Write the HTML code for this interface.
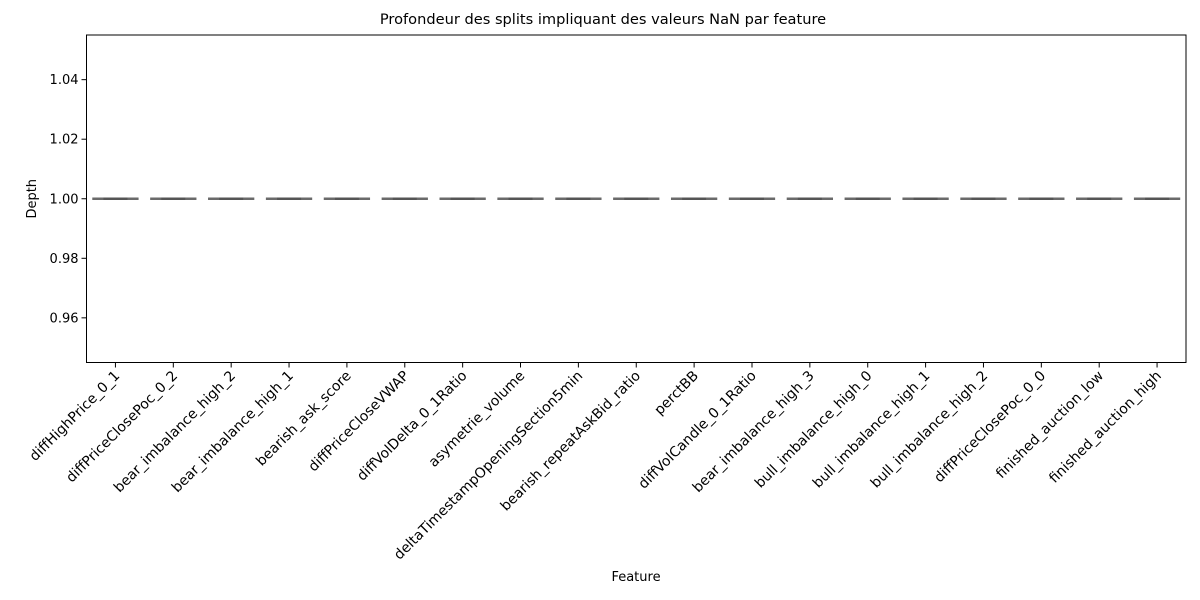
<!DOCTYPE html>
<html><head><meta charset="utf-8"><style>body{margin:0;background:#fff}svg{display:block;font-family:"DejaVu Sans","Liberation Sans",sans-serif}</style></head>
<body>
<svg id="c" width="1200" height="600" xmlns="http://www.w3.org/2000/svg"></svg>
<script>
const categories=["diffHighPrice_0_1","diffPriceClosePoc_0_2","bear_imbalance_high_2","bear_imbalance_high_1","bearish_ask_score","diffPriceCloseVWAP","diffVolDelta_0_1Ratio","asymetrie_volume","deltaTimestampOpeningSection5min","bearish_repeatAskBid_ratio","perctBB","diffVolCandle_0_1Ratio","bear_imbalance_high_3","bull_imbalance_high_0","bull_imbalance_high_1","bull_imbalance_high_2","diffPriceClosePoc_0_0","finished_auction_low","finished_auction_high"];
const medians=[1,1,1,1,1,1,1,1,1,1,1,1,1,1,1,1,1,1,1];
const yTicks=[0.96,0.98,1.00,1.02,1.04];
const yTickLabels=["0.96","0.98","1.00","1.02","1.04"];
const yMin=0.945,yMax=1.055;
const L=86.5,R=1186,T=35,B=362.5;
const svg=document.getElementById('c');const NS="http://www.w3.org/2000/svg";
function mk(t,a,p){const e=document.createElementNS(NS,t);for(const k in a)e.setAttribute(k,a[k]);(p||svg).appendChild(e);return e;}
const step=(R-L)/categories.length;
const x=i=>L+step*(i+0.5);
const y=v=>B-(v-yMin)/(yMax-yMin)*(B-T);
const t=mk('text',{x:603,y:24,'font-size':'14.6','text-anchor':'middle'});t.textContent="Profondeur des splits impliquant des valeurs NaN par feature";


categories.forEach((c,i)=>{
 const g=mk('g',{});
 
 
 const w=step*0.8,yy=y(medians[i]);
 mk('line',{x1:x(i)-w/2,x2:x(i)+w/2,y1:yy,y2:yy,stroke:'#6a6a6a','stroke-width':2.5},g);
 mk('line',{x1:x(i)-12,x2:x(i)+12,y1:yy,y2:yy,stroke:'#555','stroke-width':2.5},g);
 mk('line',{x1:x(i),x2:x(i),y1:B,y2:B+5,stroke:'#000','stroke-width':1});
 const tx=mk('text',{'font-size':'14','text-anchor':'end',transform:`translate(${x(i)+5},${B+14}) rotate(-45)`});
 tx.textContent=c;
 
 
});
yTicks.forEach((v,i)=>{
 mk('line',{x1:L-5,x2:L,y1:y(v),y2:y(v),stroke:'#000','stroke-width':1});
 const tx=mk('text',{x:L-8,y:y(v)+4.5,'font-size':'13','text-anchor':'end'});tx.textContent=yTickLabels[i];
 
 
});
const fr=mk('rect',{x:L,y:T,width:R-L,height:B-T,fill:'none',stroke:'#000','stroke-width':1});


const xt=mk('text',{x:636,y:581,'font-size':'13','text-anchor':'middle'});xt.textContent="Feature";


const yt=mk('text',{'font-size':'13','text-anchor':'middle',transform:`translate(36,${(T+B)/2}) rotate(-90)`});yt.textContent="Depth";


</script>
</body></html>
